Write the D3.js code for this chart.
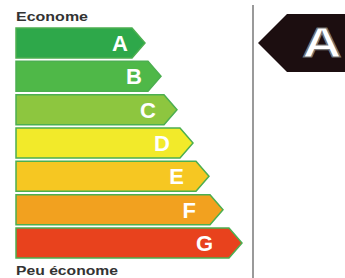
<!DOCTYPE html>
<html>
<head>
<meta charset="utf-8">
<script src="https://cdn.jsdelivr.net/npm/d3@7"></script>
<style>
  body { margin: 0; background: #fff; }
  svg { display: block; }
</style>
</head>
<body>
<div id="chart"></div>
<script>
// energy classes, best to worst
const classes = ['A', 'B', 'C', 'D', 'E', 'F', 'G'];
const lengths = [129, 145, 161, 177, 193, 207, 226];
const colors = ['#2ea84a', '#4fb848', '#8dc63f', '#f2ea2a', '#f6c722', '#f2a11f', '#e8421d'];
const topLabel = 'Econome';
const bottomLabel = 'Peu économe';
const rating = 'A';

const width = 345;
const height = 278;

const svg = d3
  .select('#chart')
  .append('svg')
  .attr('width', width)
  .attr('height', height);

const y = d3.scaleBand().domain(classes).range([28, 258]).paddingInner(0.1);
const x = d3.scaleLinear().domain([0, d3.max(lengths)]).range([16, 242]);

const bh = y.bandwidth();

function arrowPath(d, i) {
  const top = y(d);
  const tip = x(lengths[i]);
  const depth = bh / 2 - 2;
  return `M${x(0)},${top}L${tip - depth},${top}L${tip},${top + bh / 2}L${tip - depth},${top + bh}L${x(0)},${top + bh}Z`;
}

svg
  .selectAll('path.bar')
  .data(classes)
  .enter()
  .append('path')
  .attr('class', 'bar')
  .attr('d', arrowPath)
  .attr('fill', (d, i) => colors[i])
  .attr('stroke', '#4caf50')
  .attr('stroke-width', 1.5)
  .attr('stroke-linejoin', 'miter');

svg
  .selectAll('text.cls')
  .data(classes)
  .enter()
  .append('text')
  .attr('class', 'cls')
  .attr('x', (d, i) => x(lengths[i]) - 17 - 2 * i)
  .attr('y', (d) => y(d) + bh / 2 + 8)
  .attr('text-anchor', 'end')
  .style('font-family', '"Liberation Sans", Arial, sans-serif')
  .style('font-weight', 'bold')
  .style('font-size', '22px')
  .attr('fill', '#fff')
  .text((d) => d);

svg
  .append('text')
  .attr('x', 16)
  .attr('y', 20.5)
  .attr('textLength', 72)
  .attr('lengthAdjust', 'spacingAndGlyphs')
  .style('font-family', '"Liberation Sans", Arial, sans-serif')
  .style('font-weight', 'bold')
  .style('font-size', '12.5px')
  .attr('fill', '#333')
  .text(topLabel);

svg
  .append('text')
  .attr('x', 16)
  .attr('y', 274.5)
  .attr('textLength', 102)
  .attr('lengthAdjust', 'spacingAndGlyphs')
  .style('font-family', '"Liberation Sans", Arial, sans-serif')
  .style('font-weight', 'bold')
  .style('font-size', '12.5px')
  .attr('fill', '#333')
  .text(bottomLabel);

// divider
svg
  .append('line')
  .attr('x1', 253)
  .attr('x2', 253)
  .attr('y1', 5)
  .attr('y2', height)
  .attr('stroke', '#9a9a9a')
  .attr('stroke-width', 2);

// rating indicator
const cy = y(rating) + bh / 2;
const half = 29;
const tipX = 258;
svg
  .append('path')
  .attr('d', `M${tipX},${cy}L${tipX + half},${cy - half}L${width + 5},${cy - half}L${width + 5},${cy + half}L${tipX + half},${cy + half}Z`)
  .attr('fill', '#1c0e10');

svg
  .append('text')
  .attr('transform', `translate(322,${cy + 14}) scale(1.3,1)`)
  .attr('text-anchor', 'middle')
  .style('font-family', '"Liberation Sans", Arial, sans-serif')
  .style('font-weight', 'bold')
  .style('font-size', '42px')
  .attr('fill', '#fff')
  .attr('stroke', '#777')
  .attr('stroke-width', 1.2)
  .text(rating);
</script>
</body>
</html>
